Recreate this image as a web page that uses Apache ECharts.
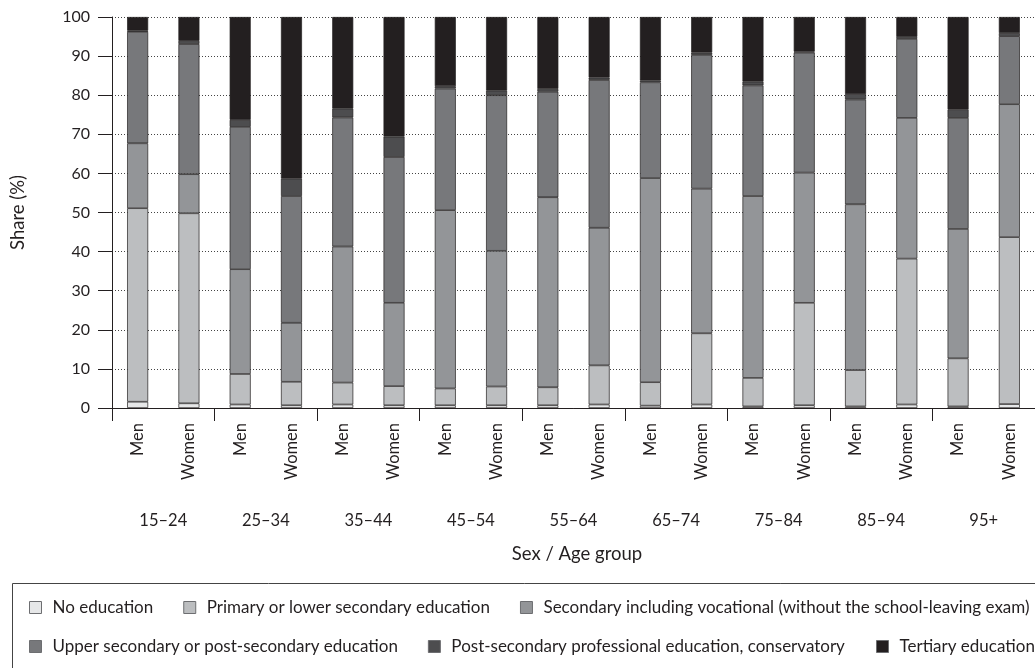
<!DOCTYPE html>
<html>
<head>
<meta charset="utf-8">
<script src="https://cdn.jsdelivr.net/npm/echarts@6/dist/echarts.min.js"></script>
<style>html,body{margin:0;padding:0;background:#fff}#c{width:1035px;height:668px}</style>
</head>
<body>
<div id="c"></div>
<script>
const categories = ['Men','Women','Men','Women','Men','Women','Men','Women','Men','Women','Men','Women','Men','Women','Men','Women','Men','Women'];
const ageGroups = ['15–24','25–34','35–44','45–54','55–64','65–74','75–84','85–94','95+'];
const yTicks = [0,10,20,30,40,50,60,70,80,90,100];

const noEducation = [1.6,1.2,0.9,0.7,0.9,0.7,0.7,0.7,0.7,0.9,0.6,0.9,0.4,0.7,0.4,0.9,0.4,1.0];
const primary     = [49.5,48.6,7.8,6.0,5.6,4.9,4.3,4.8,4.6,10.0,6.0,18.2,7.3,26.2,9.3,37.3,12.3,42.7];
const secondaryVoc= [16.6,10.0,26.8,15.1,34.8,21.3,45.6,34.7,48.6,35.2,52.2,37.0,46.5,33.3,42.4,36.0,33.1,34.0];
const upperSec    = [28.5,33.3,36.4,32.4,33.0,37.3,31.1,39.8,27.0,37.8,24.5,34.2,28.3,30.7,26.8,20.2,28.4,17.4];
const postSecProf = [0.3,0.8,1.8,4.5,2.3,5.2,0.6,1.2,0.7,0.6,0.5,0.6,1.0,0.3,1.4,0.5,2.2,0.8];
const tertiary    = [3.5,6.1,26.3,41.3,23.4,30.6,17.7,18.8,18.4,15.5,16.2,9.1,16.5,8.8,19.7,5.1,23.6,4.1];

const seriesNames = ['No education','Primary or lower secondary education','Secondary including vocational (without the school-leaving exam)','Upper secondary or post-secondary education','Post-secondary professional education, conservatory','Tertiary education'];
const seriesData = [noEducation, primary, secondaryVoc, upperSec, postSecProf, tertiary];
const colors = ['#e6e7e8','#bcbec0','#939598','#77787b','#4d4d4f','#231f20'];

const FONT = 'Lato';
const txt = '#231f20';

const legendBase = {
  itemWidth: 12, itemHeight: 12, itemGap: 30, icon: 'rect', padding: 0,
  textStyle: {fontSize: 17, color: txt, fontFamily: FONT, padding: [0,0,0,6]},
  itemStyle: {borderColor: '#6d6e71', borderWidth: 1},
  selectedMode: false
};

const chart = echarts.init(document.getElementById('c'), null, {renderer:'canvas'});
const option = {
  animation: false,
  backgroundColor: '#fff',
  textStyle: {fontFamily: FONT, color: txt},
  grid: [
    {left: 112, top: 17, bottom: 260, right: -9, containLabel: false},
    {left: 112, top: 17, bottom: 260, right: -9, containLabel: false}
  ],
  xAxis: [
    {
      type: 'category', gridIndex: 0, data: categories,
      axisLine: {show: true, lineStyle: {color: txt, width: 1}},
      axisTick: {show: false},
      axisLabel: {rotate: 90, margin: 15, fontSize: 16.5, color: txt, fontFamily: FONT, interval: 0}
    },
    {
      type: 'category', gridIndex: 1, data: ageGroups, position: 'bottom',
      axisLine: {show: true, lineStyle: {color: txt, width: 1}},
      axisTick: {show: true, length: 13, lineStyle: {color: txt, width: 1}},
      axisLabel: {margin: 104, fontSize: 16.5, color: txt, fontFamily: FONT, interval: 0}
    }
  ],
  yAxis: [
    {
      type: 'value', gridIndex: 0, min: 0, max: 100, interval: 10,
      name: 'Share (%)', nameLocation: 'middle', nameGap: 84,
      nameTextStyle: {fontSize: 18.5, color: txt, fontFamily: FONT},
      axisLine: {show: true, lineStyle: {color: txt, width: 1}},
      axisTick: {show: true, length: 14, lineStyle: {color: txt, width: 1}},
      axisLabel: {margin: 22, fontSize: 16, color: txt, fontFamily: FONT,
        formatter: v => yTicks.includes(v) ? String(v) : ''},
      splitLine: {show: true, lineStyle: {color: '#444', width: 1, type: [1, 2]}}
    },
    {
      type: 'value', gridIndex: 1, min: 0, max: 100, show: false
    }
  ],
  legend: [
    Object.assign({}, legendBase, {left: 29, top: 599, data: seriesNames.slice(0, 3)}),
    Object.assign({}, legendBase, {left: 29, top: 638, data: seriesNames.slice(3, 5)}),
    Object.assign({}, legendBase, {left: 876, top: 638, data: seriesNames.slice(5)})
  ],
  graphic: [
    {type: 'rect', left: 10, top: 581, shape: {width: 1040, height: 100},
     style: {fill: 'none', stroke: '#444', lineWidth: 1}, silent: true},
    {type: 'text', x: 577, y: 545,
     style: {text: 'Sex / Age group', font: '18.5px ' + FONT, fill: txt, align: 'center', verticalAlign: 'top'}, silent: true}
  ],
  series: seriesNames.map((name, i) => ({
    name, type: 'bar', stack: 'total', xAxisIndex: 0, yAxisIndex: 0,
    barWidth: 21,
    data: seriesData[i],
    itemStyle: {color: colors[i], borderColor: '#231f20', borderWidth: 0.7},
    emphasis: {disabled: true}
  }))
};
chart.setOption(option);
</script>
</body>
</html>
